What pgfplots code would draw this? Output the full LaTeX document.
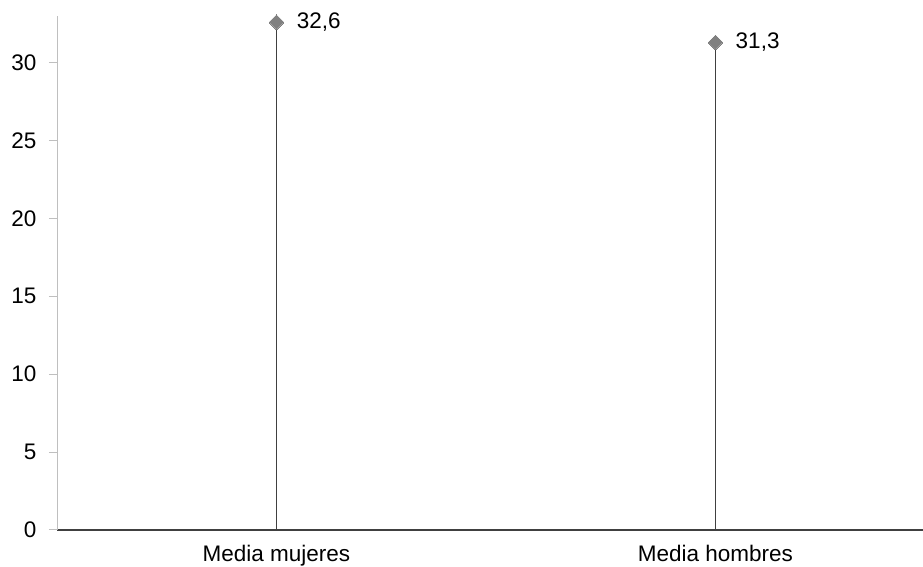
\documentclass[border=0pt]{standalone}
\usepackage{pgfplots}
\pgfplotsset{compat=1.18}
\usepackage{fontspec}
\setmainfont{Liberation Sans}
\definecolor{ygray}{HTML}{BFBFBF}
\definecolor{xdark}{HTML}{404040}
\definecolor{stemc}{HTML}{404040}
\definecolor{markc}{HTML}{808080}
\begin{document}
\begin{tikzpicture}
\begin{axis}[
  scale only axis,
  width=866pt, height=514pt,
  xmin=-0.5, xmax=1.473,
  ymin=0, ymax=33,
  axis x line*=bottom,
  axis y line*=left,
  x axis line style={draw=xdark, line width=1.3pt, -},
  y axis line style={draw=ygray, line width=1pt, -},
  xtick={0,1},
  xticklabels={Media mujeres, Media hombres},
  ytick={0,5,...,30},
  tick align=outside,
  x tick style={draw=none},
  y tick style={draw=ygray, line width=1pt},
  major tick length=8pt,
  ticklabel style={font=\fontsize{22.5}{26}\selectfont, text=black},
  xticklabel style={yshift=-4pt},
  yticklabel style={xshift=-9pt},
  /pgf/number format/assume math mode=true,
  clip=false,
]
\coordinate (O) at (rel axis cs:0,0);
\addplot[ycomb, draw=stemc, line width=1.2pt,
  mark=square*, mark size=5.2pt,
  mark options={rotate=45, fill=markc, draw=markc, line width=0pt},
  point meta=explicit symbolic,
  nodes near coords,
  nodes near coords style={anchor=west, xshift=17pt, yshift=0pt, text=black, font=\fontsize{22.5}{26}\selectfont}]
  coordinates {(0,32.6) [32,6] (1,31.3) [31,3]};
\end{axis}
\pgfresetboundingbox
\path (O) ++(-57pt,-37pt) rectangle ++(923pt,567pt);
\end{tikzpicture}
\end{document}
